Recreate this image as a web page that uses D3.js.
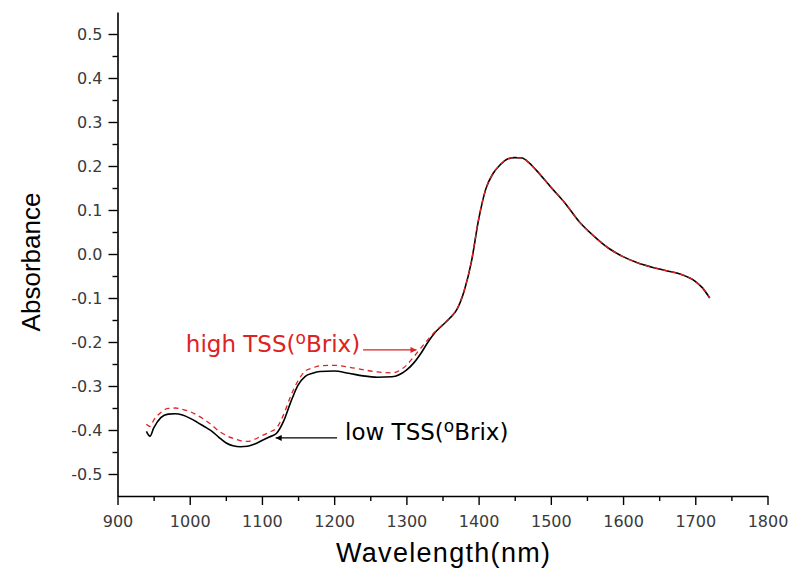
<!DOCTYPE html>
<html>
<head>
<meta charset="utf-8">
<script src="https://cdn.jsdelivr.net/npm/d3@7"></script>
<style>
  body { margin: 0; background: #fff; }
  svg { display: block; }
</style>
</head>
<body>
<div id="chart"></div>
<script>
// wavelength (nm)
var wavelength = [940, 945, 950, 960, 970, 980, 990, 1000, 1010, 1020, 1030, 1040, 1050, 1060, 1070, 1080, 1090, 1100, 1110, 1120, 1130, 1140, 1150, 1160, 1170, 1180,
  1200, 1220, 1240, 1260, 1280, 1300,
  1310, 1320, 1330, 1340, 1350, 1360, 1370, 1380, 1390, 1400, 1410, 1420, 1430, 1440, 1450, 1460, 1470, 1480,
  1500, 1520, 1540, 1560, 1580, 1600, 1620, 1640, 1660, 1680, 1700,
  1710, 1720];
// low TSS spectrum
var lowTSS = [-0.403, -0.414, -0.396, -0.372, -0.364, -0.363, -0.366, -0.373, -0.382, -0.392, -0.402, -0.416, -0.429, -0.436, -0.438, -0.437, -0.432, -0.424, -0.416, -0.408, -0.380, -0.336, -0.298, -0.278, -0.271, -0.267,
  -0.266, -0.271, -0.277, -0.280, -0.279, -0.264,
  -0.248, -0.226, -0.200, -0.178, -0.162, -0.146, -0.126, -0.084, -0.018, 0.078, 0.148, 0.183, 0.203, 0.216, 0.219, 0.218, 0.207, 0.190,
  0.152, 0.115, 0.072, 0.040, 0.013, -0.006, -0.020, -0.030, -0.038, -0.046, -0.062,
  -0.077, -0.100];
// high TSS spectrum
var highTSS = [-0.387, -0.392, -0.378, -0.360, -0.351, -0.350, -0.353, -0.358, -0.366, -0.376, -0.388, -0.402, -0.412, -0.419, -0.424, -0.426, -0.421, -0.413, -0.405, -0.396, -0.365, -0.322, -0.288, -0.266, -0.259, -0.254,
  -0.253, -0.257, -0.263, -0.268, -0.270, -0.253,
  -0.234, -0.214, -0.194, -0.176, -0.161, -0.145, -0.125, -0.083, -0.017, 0.079, 0.148, 0.183, 0.203, 0.216, 0.219, 0.218, 0.207, 0.190,
  0.152, 0.115, 0.072, 0.040, 0.013, -0.006, -0.020, -0.030, -0.038, -0.046, -0.062,
  -0.077, -0.100];

var xTicks = [900, 1000, 1100, 1200, 1300, 1400, 1500, 1600, 1700, 1800];
var xMinor = [950, 1050, 1150, 1250, 1350, 1450, 1550, 1650, 1750];
var yTicks = [-0.5, -0.4, -0.3, -0.2, -0.1, 0.0, 0.1, 0.2, 0.3, 0.4, 0.5];
var yMinor = [-0.45, -0.35, -0.25, -0.15, -0.05, 0.05, 0.15, 0.25, 0.35, 0.45];

// annotations (arrow from/to in nm, at absorbance y)
var highNote = {label: "high TSS(", sup: "o", tail: "Brix)", from: 1240, to: 1314, y: -0.218, textAt: 1236};
var lowNote = {label: "low TSS(", sup: "o", tail: "Brix)", from: 1204, to: 1119, y: -0.418, textAt: 1215};

var width = 789, height = 569;
var svg = d3.select("#chart").append("svg").attr("width", width).attr("height", height);

var x = d3.scaleLinear().domain([900, 1800]).range([117.5, 767.5]);
var y = d3.scaleLinear().domain([-0.55, 0.55]).range([496, 12]);

var tickFont = "'DejaVu Sans', sans-serif";
var fmtY = function(d) { return d3.format(".1f")(d).replace("\u2212", "-"); };

// x axis
var gx = svg.append("g").attr("transform", "translate(0," + y(-0.55) + ")");
gx.call(d3.axisBottom(x).tickValues(xTicks).tickSize(9).tickSizeOuter(0).tickFormat(d3.format("d")));
gx.append("g").call(d3.axisBottom(x).tickValues(xMinor).tickSize(5).tickFormat(""))
  .select(".domain").remove();

// y axis
var gy = svg.append("g").attr("transform", "translate(" + x(900) + ",0)");
gy.call(d3.axisLeft(y).tickValues(yTicks).tickSize(9).tickSizeOuter(0).tickFormat(fmtY));
gy.append("g").call(d3.axisLeft(y).tickValues(yMinor).tickSize(5).tickFormat(""))
  .select(".domain").remove();

svg.selectAll(".domain").attr("stroke", "#000").attr("stroke-width", 1.6);
svg.selectAll(".tick line").attr("stroke", "#000").attr("stroke-width", 1.4);
gx.selectAll(".tick text").attr("y", 31).attr("dy", 0)
  .attr("font-family", tickFont).attr("font-size", 16).attr("fill", "#3a3a3a");
gy.selectAll(".tick text").attr("x", -15).attr("dy", "0.36em")
  .attr("font-family", tickFont).attr("font-size", 16).attr("fill", "#3a3a3a");

// axis titles
svg.append("text")
  .attr("x", 443).attr("y", 562)
  .attr("text-anchor", "middle")
  .attr("font-family", "'Liberation Sans', Arial, sans-serif")
  .attr("font-size", 27)
  .attr("textLength", 214)
  .text("Wavelength(nm)");

svg.append("text")
  .attr("transform", "translate(40," + 262 + ") rotate(-90)")
  .attr("text-anchor", "middle")
  .attr("font-family", "'Liberation Sans', Arial, sans-serif")
  .attr("font-size", 26)
  .text("Absorbance");

// curves
var line = d3.line()
  .x(function(d, i) { return x(wavelength[i]); })
  .y(function(d) { return y(d); })
  .curve(d3.curveMonotoneX);

svg.append("path")
  .datum(lowTSS)
  .attr("d", line)
  .attr("fill", "none")
  .attr("stroke", "#000")
  .attr("stroke-width", 1.6);

svg.append("path")
  .datum(highTSS)
  .attr("d", line)
  .attr("fill", "none")
  .attr("stroke", "#dd2222")
  .attr("stroke-width", 1.3)
  .attr("stroke-dasharray", "5,4");

// arrow markers
var defs = svg.append("defs");
[["arrowRed", "#dd2222"], ["arrowBlack", "#000"]].forEach(function(m) {
  defs.append("marker")
    .attr("id", m[0])
    .attr("viewBox", "0 0 10 10")
    .attr("refX", 10).attr("refY", 5)
    .attr("markerWidth", 12).attr("markerHeight", 6)
    .attr("markerUnits", "userSpaceOnUse")
    .attr("orient", "auto")
    .append("path")
    .attr("d", "M0,0L10,5L0,10Z")
    .attr("fill", m[1]);
});

function note(n, color, marker, anchor) {
  svg.append("line")
    .attr("x1", x(n.from)).attr("y1", y(n.y))
    .attr("x2", x(n.to)).attr("y2", y(n.y))
    .attr("stroke", color).attr("stroke-width", 1.4)
    .attr("marker-end", "url(#" + marker + ")");
  var t = svg.append("text")
    .attr("x", x(n.textAt)).attr("y", y(n.y) + 2)
    .attr("text-anchor", anchor)
    .attr("font-family", tickFont)
    .attr("font-size", 23)
    .attr("fill", color);
  t.append("tspan").text(n.label);
  t.append("tspan").attr("font-size", 17).attr("dy", -8).text(n.sup);
  t.append("tspan").attr("dy", 8).text(n.tail);
}
note(highNote, "#dd2222", "arrowRed", "end");
note(lowNote, "#000", "arrowBlack", "start");
</script>
</body>
</html>
